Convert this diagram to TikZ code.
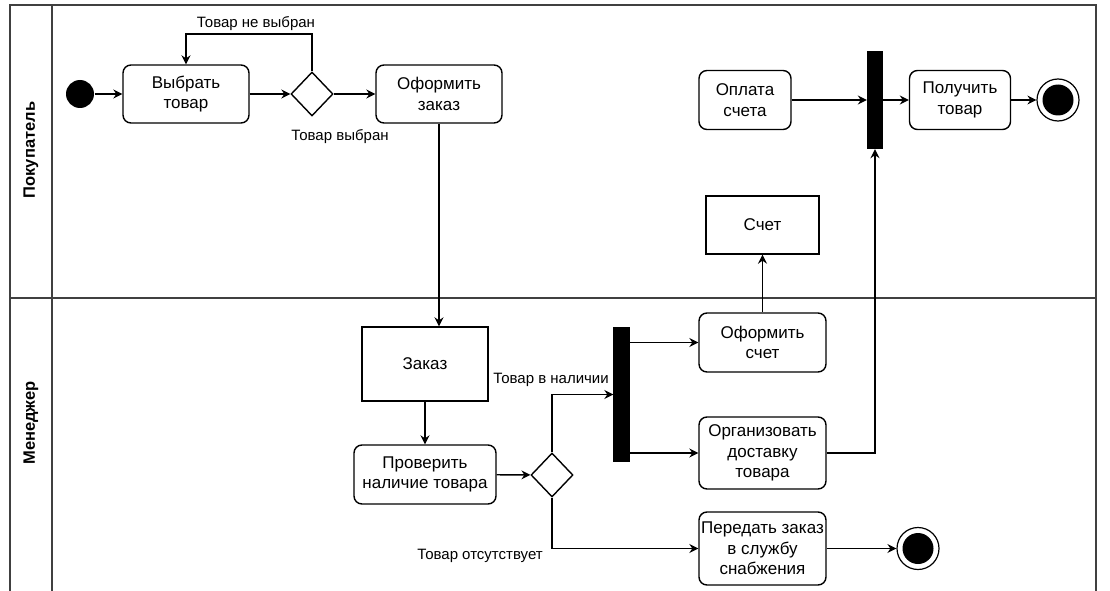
\documentclass[tikz,border=0pt]{standalone}
\usepackage{fontspec}
\setmainfont{Liberation Sans}
\usetikzlibrary{arrows.meta,shapes.geometric,calc}
\begin{document}
\begin{tikzpicture}[x=1pt,y=-1pt,
  line width=1.4pt,
  every node/.style={font=\fontsize{17}{20.5}\selectfont},
  act/.style={draw,rounded corners=8pt,align=center,inner sep=0pt},
  obj/.style={draw,align=center,inner sep=0pt},
  bar/.style={draw,fill=black,inner sep=0pt,minimum width=15pt},
  dec/.style={draw,diamond,inner sep=0pt,minimum width=42pt,minimum height=44pt},
  startnode/.style={circle,fill=black,minimum size=28pt,inner sep=0pt},
  endnode/.style={circle,draw,line width=1.2pt,minimum size=42pt,inner sep=0pt,
     path picture={\fill[black] (path picture bounding box.center) circle (15.5pt);}},
  lbl/.style={font=\fontsize{15}{18}\selectfont,inner sep=1pt},
  lane/.style={draw=black!75,line width=1.4pt},
  arr/.style={-{Stealth[length=9pt,width=9pt,inset=3pt]}},
]
\useasboundingbox (0,0) rectangle (1110,591);
% swimlanes
\draw[lane] (10,591) -- (10,5) -- (1096,5) -- (1096,591);
\draw[lane] (52,5) -- (52,591);
\draw[lane] (10,298) -- (1096,298);
\node[rotate=90,font=\fontsize{16.5}{20}\selectfont\bfseries] (l1) at (31,150) {Покупатель};
\node[rotate=90,font=\fontsize{16.5}{20}\selectfont\bfseries] (l2) at (31,423) {Менеджер};

% customer lane
\node[startnode] (start) at (80,94) {};
\node[act,minimum width=126pt,minimum height=58pt] (choose) at (186,94) {Выбрать\\товар};
\node[dec] (d1) at (312,94) {};
\node[act,minimum width=126pt,minimum height=58pt] (order) at (439,94) {Оформить\\заказ};
\node[act,minimum width=92pt,minimum height=59pt] (pay) at (745,100) {Оплата\\счета};
\node[bar,minimum height=97pt] (bar1) at (875,100) {};
\node[act,minimum width=101pt,minimum height=59pt] (get) at (960,100) {Получить\\товар};
\node[endnode] (end1) at (1058,100) {};
\node[obj,minimum width=113pt,minimum height=58pt] (inv) at (762.5,225) {Счет};

% manager lane
\node[obj,minimum width=126pt,minimum height=74pt] (zakaz) at (425,364) {Заказ};
\node[act,minimum width=142pt,minimum height=59pt] (check) at (425,474.5) {Проверить\\наличие товара};
\node[dec] (d2) at (552,475) {};
\node[bar,minimum height=133pt] (bar2) at (621.5,394.5) {};
\node[act,minimum width=127pt,minimum height=59pt] (invoice) at (762.5,342.5) {Оформить\\счет};
\node[act,minimum width=127pt,minimum height=72pt] (deliv) at (762.5,453) {Организовать\\доставку\\товара};
\node[act,minimum width=127pt,minimum height=73pt] (pass) at (762.5,548.5) {Передать заказ\\в службу\\снабжения};
\node[endnode] (end2) at (918,548.5) {};

% connectors
\draw[arr] (start) -- (choose);
\draw[arr] (choose) -- (d1);
\draw[arr] (d1) -- (order);
\coordinate (loop) at (312,34);
\draw[arr] (d1.north) -- (loop) -| (choose.north);
\node[lbl] (t1) at (256,24) {Товар не выбран};
\node[lbl] (t2) at (340,137) {Товар выбран};
\draw[arr] (order.south) -- (order.south |- zakaz.north);
\draw[arr] (zakaz) -- (check);
\draw[arr] (check) -- (d2);
\draw[arr] (d2.north) |- (bar2.west);
\node[lbl] (t3) at (551,380) {Товар в наличии};
\draw[arr] (d2.south) |- (pass.west);
\node[lbl] (t4) at (480,556) {Товар отсутствует};
\draw[arr] (bar2.east |- invoice.west) -- (invoice.west);
\draw[arr] (bar2.east |- deliv.west) -- (deliv.west);
\draw[arr] (invoice.north) -- (inv.south);
\draw[arr] (deliv.east) -| (bar1.south);
\draw[arr] (pay) -- (bar1);
\draw[arr] (bar1) -- (get);
\draw[arr] (get) -- (end1);
\draw[arr] (pass) -- (end2);
\end{tikzpicture}
\end{document}
